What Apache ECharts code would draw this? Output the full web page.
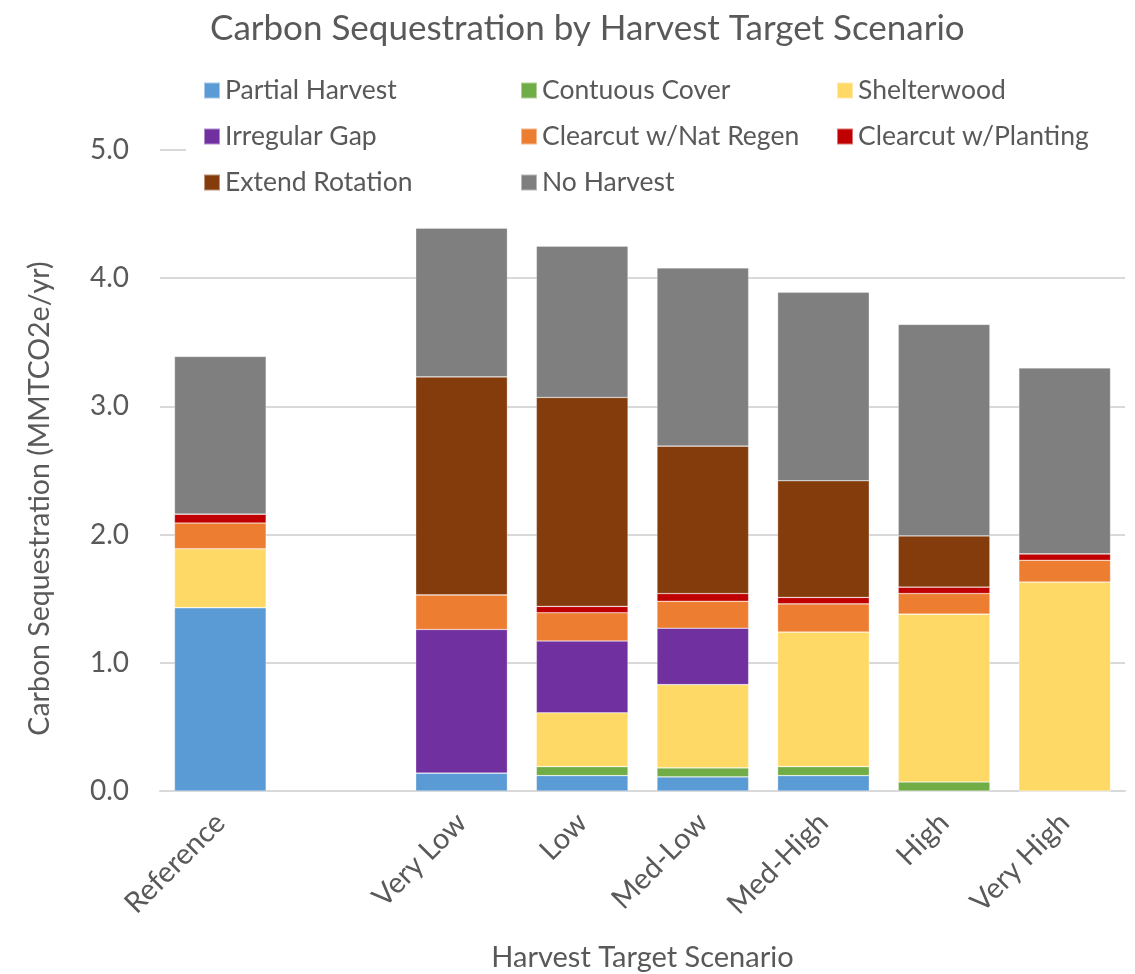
<!DOCTYPE html>
<html>
<head>
<meta charset="utf-8">
<title>Carbon Sequestration by Harvest Target Scenario</title>
<script src="https://cdn.jsdelivr.net/npm/echarts@6/dist/echarts.min.js"></script>
<style>
  html, body { margin: 0; padding: 0; background: #ffffff; }
  #chart { width: 1135px; height: 974px; }
</style>
</head>
<body>
<div id="chart"></div>
<script>
// Scenarios (the blank entry leaves a gap after the reference case)
const categories = ['Reference', '', 'Very Low', 'Low', 'Med-Low', 'Med-High', 'High', 'Very High'];

// Carbon sequestration by harvest method, MMTCO2e/yr
const partialHarvest   = [1.43, null, 0.14, 0.12, 0.11, 0.12, 0,    0];
const contuousCover    = [0,    null, 0,    0.07, 0.07, 0.07, 0.07, 0];
const shelterwood      = [0.46, null, 0,    0.42, 0.65, 1.05, 1.31, 1.63];
const irregularGap     = [0,    null, 1.12, 0.56, 0.44, 0,    0,    0];
const clearcutNatRegen = [0.20, null, 0.27, 0.22, 0.21, 0.22, 0.16, 0.17];
const clearcutPlanting = [0.07, null, 0,    0.05, 0.06, 0.05, 0.05, 0.05];
const extendRotation   = [0,    null, 1.70, 1.63, 1.15, 0.91, 0.40, 0];
const noHarvest        = [1.23, null, 1.16, 1.18, 1.39, 1.47, 1.65, 1.45];

const yTicks = [0, 1, 2, 3, 4, 5];

const seriesDefs = [
  { name: 'Partial Harvest',       data: partialHarvest,   color: '#5B9BD5' },
  { name: 'Contuous Cover',        data: contuousCover,    color: '#70AD47' },
  { name: 'Shelterwood',           data: shelterwood,      color: '#FFD966' },
  { name: 'Irregular Gap',         data: irregularGap,     color: '#7030A0' },
  { name: 'Clearcut w/Nat Regen',  data: clearcutNatRegen, color: '#ED7D31' },
  { name: 'Clearcut w/Planting',   data: clearcutPlanting, color: '#C00000' },
  { name: 'Extend Rotation',       data: extendRotation,   color: '#843C0C' },
  { name: 'No Harvest',            data: noHarvest,        color: '#7F7F7F' }
];

const FONT = 'Lato, "Open Sans", sans-serif';
const TEXT = '#595959';

function legendColumn(names, left) {
  return {
    orient: 'vertical',
    left: left,
    top: 77,
    padding: 0,
    itemWidth: 16,
    itemHeight: 16,
    itemGap: 19,
    icon: 'rect',
    selectedMode: false,
    data: names,
    textStyle: { fontFamily: FONT, fontSize: 26.5, color: TEXT, lineHeight: 26, padding: [0, 0, 0, 0] }
  };
}

const chart = echarts.init(document.getElementById('chart'), null, { renderer: 'canvas' });

chart.setOption({
  animation: false,
  backgroundColor: '#ffffff',
  title: {
    text: 'Carbon Sequestration by Harvest Target Scenario',
    left: 205,
    top: 6,
    textStyle: { fontFamily: FONT, fontSize: 35, fontWeight: 'normal', color: TEXT }
  },
  legend: [
    legendColumn(['Partial Harvest', 'Irregular Gap', 'Extend Rotation'], 203),
    legendColumn(['Contuous Cover', 'Clearcut w/Nat Regen', 'No Harvest'], 520),
    legendColumn(['Shelterwood', 'Clearcut w/Planting'], 836)
  ],
  graphic: [{
    // keeps the legend area clear of the top gridline
    type: 'rect',
    left: 186,
    top: 140,
    shape: { width: 939, height: 20 },
    style: { fill: '#ffffff' },
    z: 1
  }],
  grid: { left: 160, right: 10, top: 150, bottom: 183, outerBoundsMode: 'none', containLabel: false },
  xAxis: {
    type: 'category',
    data: categories,
    axisLine: { show: true, lineStyle: { color: '#D9D9D9', width: 2 } },
    axisTick: { show: false },
    axisLabel: {
      rotate: 45,
      margin: 27,
      fontFamily: FONT,
      fontSize: 29,
      color: TEXT
    },
    name: 'Harvest Target Scenario',
    nameLocation: 'middle',
    nameGap: 152,
    nameTextStyle: { fontFamily: FONT, fontSize: 29, color: TEXT }
  },
  yAxis: {
    type: 'value',
    min: yTicks[0],
    max: yTicks[yTicks.length - 1],
    interval: 1,
    axisLine: { show: false },
    axisTick: { show: false },
    splitLine: { show: true, lineStyle: { color: '#D9D9D9', width: 2 } },
    axisLabel: {
      margin: 31,
      fontFamily: FONT,
      fontSize: 28,
      color: TEXT,
      formatter: v => v.toFixed(1)
    },
    name: 'Carbon Sequestration (MMTCO2e/yr)',
    nameLocation: 'middle',
    nameGap: 106,
    nameTextStyle: { fontFamily: FONT, fontSize: 28.5, color: TEXT, padding: [0, 56, 0, 0] }
  },
  series: seriesDefs.map(s => ({
    name: s.name,
    type: 'bar',
    stack: 'total',
    barCategoryGap: '24%',
    data: s.data,
    itemStyle: { color: s.color, borderColor: 'rgba(255,255,255,0.45)', borderWidth: 0.6 },
    emphasis: { disabled: true }
  }))
});
</script>
</body>
</html>
